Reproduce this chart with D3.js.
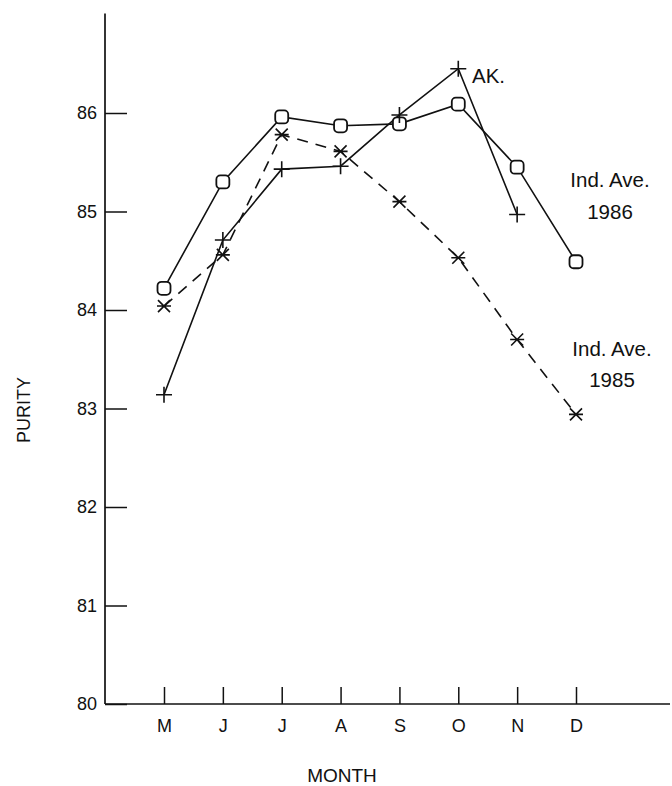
<!DOCTYPE html>
<html>
<head>
<meta charset="utf-8">
<script src="https://cdn.jsdelivr.net/npm/d3@7"></script>
<style>
  html, body { margin: 0; padding: 0; background: #fff; }
  svg { display: block; }
  text { font-family: "Liberation Sans", Arial, Helvetica, sans-serif; fill: #111; }
</style>
</head>
<body>
<svg id="chart" width="672" height="786"></svg>
<script>
// ---- data ----
const monthKeys   = ["May", "Jun", "Jul", "Aug", "Sep", "Oct", "Nov", "Dec"];
const monthLabels = ["M", "J", "J", "A", "S", "O", "N", "D"];
const yTicks      = [80, 81, 82, 83, 84, 85, 86];
const ak      = [83.14, 84.71, 85.43, 85.46, 85.98, 86.45, 84.97];          // May–Nov
const ave1986 = [84.22, 85.30, 85.96, 85.87, 85.89, 86.09, 85.45, 84.49];   // May–Dec
const ave1985 = [84.04, 84.56, 85.78, 85.61, 85.10, 84.53, 83.70, 82.94];   // May–Dec

const svg = d3.select("#chart");
const ink = "#111";
const font = '"Liberation Sans", Arial, sans-serif';

const x = d3.scalePoint().domain(monthKeys).range([164, 576]);
const y = d3.scaleLinear().domain([80, 87]).range([704, 14.5]);
const x0 = 105, xEnd = 670;

// axes lines
svg.append("line").attr("x1", x0).attr("x2", x0).attr("y1", y(87) - 1).attr("y2", y(80))
  .attr("stroke", ink).attr("stroke-width", 1.7);
svg.append("line").attr("x1", x0).attr("x2", xEnd).attr("y1", y(80)).attr("y2", y(80))
  .attr("stroke", ink).attr("stroke-width", 1.7);

// y axis ticks (inward)
const yAxis = d3.axisLeft(y).tickValues(yTicks).tickSize(-22).tickPadding(8).tickFormat(d3.format("d"));
const gy = svg.append("g").attr("transform", `translate(${x0},0)`).call(yAxis);
gy.select(".domain").remove();
gy.selectAll(".tick line").attr("stroke", ink).attr("stroke-width", 1.5);
gy.selectAll(".tick text").attr("font-size", 18).style("font-family", font).attr("fill", ink);

// x axis ticks (upward)
const xAxis = d3.axisBottom(x).tickSize(-17).tickPadding(15).tickFormat((d, i) => monthLabels[i]);
const gx = svg.append("g").attr("transform", `translate(0,${y(80)})`).call(xAxis);
gx.select(".domain").remove();
gx.selectAll(".tick line").attr("stroke", ink).attr("stroke-width", 1.5);
gx.selectAll(".tick text").attr("font-size", 18).style("font-family", font).attr("fill", ink);

// axis titles
svg.append("text").attr("x", 342).attr("y", 782).attr("text-anchor", "middle")
  .attr("font-size", 19).text("MONTH");
svg.append("text").attr("transform", `translate(30,410) rotate(-90)`).attr("text-anchor", "middle")
  .attr("font-size", 18).text("PURITY");

// lines
const line = d3.line().x((d, i) => x(monthKeys[i])).y(d => y(d));
svg.append("path").datum(ave1985).attr("d", line).attr("fill", "none")
  .attr("stroke", ink).attr("stroke-width", 1.6).attr("stroke-dasharray", "11,8");
svg.append("path").datum(ave1986).attr("d", line).attr("fill", "none")
  .attr("stroke", ink).attr("stroke-width", 1.6);
svg.append("path").datum(ak).attr("d", line).attr("fill", "none")
  .attr("stroke", ink).attr("stroke-width", 1.6);

// markers: 1985 asterisks
const s85 = svg.append("g").selectAll("g").data(ave1985).join("g")
  .attr("transform", (d, i) => `translate(${x(monthKeys[i])},${y(d)})`);
s85.append("path").attr("d", "M-6,-6L6,6M-6,6L6,-6M-7,0L7,0")
  .attr("stroke", ink).attr("stroke-width", 1.6).attr("fill", "none");

// 1986 rounded squares
svg.append("g").selectAll("rect").data(ave1986).join("rect")
  .attr("x", (d, i) => x(monthKeys[i]) - 6.5).attr("y", d => y(d) - 6.5)
  .attr("width", 13).attr("height", 13).attr("rx", 4)
  .attr("fill", "#fff").attr("stroke", ink).attr("stroke-width", 1.8);

// AK plus signs
svg.append("g").selectAll("path").data(ak).join("path")
  .attr("transform", (d, i) => `translate(${x(monthKeys[i])},${y(d)})`)
  .attr("d", "M-8,0L8,0M0,-8L0,8")
  .attr("stroke", ink).attr("stroke-width", 1.6).attr("fill", "none");

// labels
svg.append("text").attr("x", 472).attr("y", 83).attr("font-size", 20.5).text("AK.");
svg.append("text").attr("x", 610).attr("y", 187).attr("text-anchor", "middle").attr("font-size", 20.5).text("Ind. Ave.");
svg.append("text").attr("x", 610).attr("y", 219).attr("text-anchor", "middle").attr("font-size", 20.5).text("1986");
svg.append("text").attr("x", 612).attr("y", 356).attr("text-anchor", "middle").attr("font-size", 20.5).text("Ind. Ave.");
svg.append("text").attr("x", 612).attr("y", 387).attr("text-anchor", "middle").attr("font-size", 20.5).text("1985");
</script>
</body>
</html>
